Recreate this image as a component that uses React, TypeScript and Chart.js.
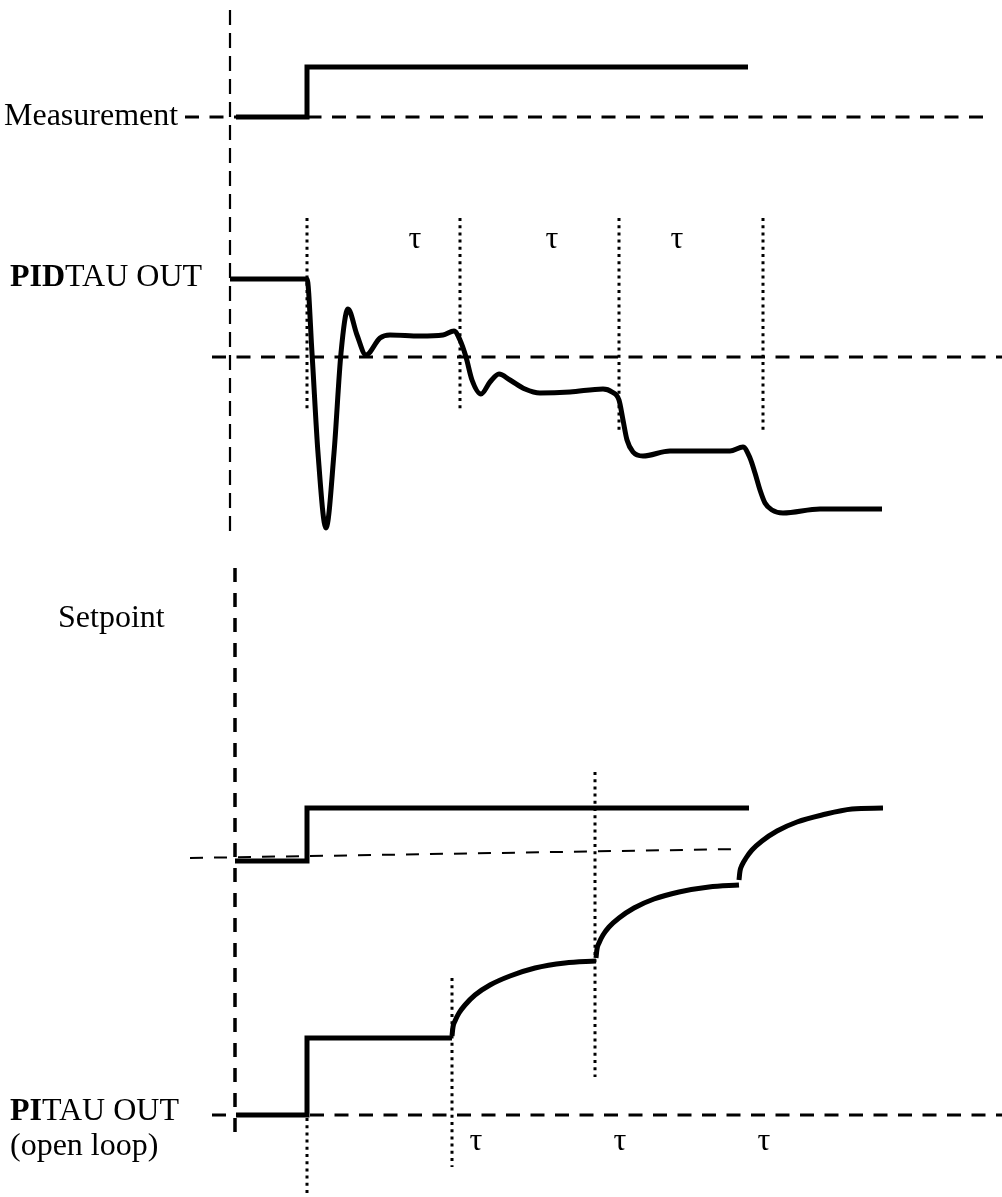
import React, { useEffect, useRef } from "react";
import { Chart, registerables } from "chart.js";

Chart.register(...registerables);

// ---- axis ranges (time in units, signal in diagram units) ----
const T_MIN = -30.7;
const T_MAX = 69.5;
const V_MIN = 0;
const V_MAX = 119.7;

// ---- Measurement step ----
const measT = [-7.1, 0, 0, 44.1];
const measV = [108.0, 108.0, 113.0, 113.0];

// ---- PID TAU output ----
const pidT = [-7.7, 0, 0.5, 1.1, 1.9, 2.7, 3.4, 4.1, 5.0, 5.9, 7.3, 8.3, 11.3, 13.6, 14.7, 15.3, 15.9, 16.5, 17.4, 18.3, 19.2, 20.3, 21.8, 23.3, 26.3, 29.6, 30.5, 31.2, 31.6, 32.0, 32.6, 33.6, 36.3, 42.3, 43.6, 44.3, 44.8, 45.3, 45.8, 46.5, 47.6, 51.3, 57.5];
const pidV = [91.8, 91.8, 84.4, 74.4, 66.9, 74.4, 84.4, 88.8, 86.2, 84.2, 85.9, 86.2, 86.1, 86.2, 86.6, 85.7, 84.0, 81.7, 80.3, 81.5, 82.3, 81.7, 80.8, 80.4, 80.5, 80.8, 80.5, 79.7, 77.7, 75.7, 74.5, 74.1, 74.6, 74.6, 75.0, 73.9, 72.4, 70.7, 69.4, 68.7, 68.4, 68.8, 68.8];

// ---- Setpoint step ----
const spT = [-7.2, 0, 0, 44.2];
const spV = [33.6, 33.6, 38.9, 38.9];

// ---- PI TAU output (open loop) ----
const piStepT = [-7.1, 0, 0, 14.5];
const piStepV = [8.2, 8.2, 15.9, 15.9];
const piRamp1T = [14.5, 14.6, 14.8, 15.2, 15.8, 16.8, 18.3, 20.3, 22.8, 25.8, 28.9];
const piRamp1V = [16.1, 17.0, 17.6, 18.4, 19.2, 20.2, 21.2, 22.1, 22.9, 23.4, 23.6];
const piRamp2T = [28.9, 29.0, 29.2, 29.6, 30.2, 31.2, 32.7, 34.7, 37.2, 40.2, 43.2];
const piRamp2V = [23.9, 24.8, 25.4, 26.2, 27.0, 27.9, 28.9, 29.8, 30.5, 31.0, 31.2];
const piRamp3T = [43.2, 43.3, 43.5, 43.9, 44.5, 45.5, 47.0, 49.0, 51.5, 54.5, 57.6];
const piRamp3V = [31.7, 32.6, 33.2, 33.9, 34.7, 35.6, 36.6, 37.5, 38.2, 38.8, 38.9];

// ---- reference (dashed) levels ----
const baseLevels = [108.0, 84.0, 8.2];
const baseStart = [-12.2, -9.5, -9.5];
const baseEnd = [68.0, 69.5, 69.5];
const spRefT = [-11.7, 43.3];
const spRefV = [33.9, 34.8];
const axisT = [-7.7, -7.2];
const axisFrom = [66.2, 5.4];
const axisTo = [118.7, 62.9];

// ---- tau marker lines (dotted) ----
const tauTopT = [0, 15.3, 31.2, 45.6];
const tauTopFrom = [78.7, 78.5, 76.5, 76.5];
const tauTopTo = [97.9, 97.9, 97.9, 97.9];
const tauBotT = [0, 14.5, 28.8];
const tauBotFrom = [0, 3.0, 12.0];
const tauBotTo = [7.9, 21.9, 42.5];

// ---- tau labels ----
const tauLabelTopT = [10.8, 24.5, 37.0];
const tauLabelTopV = 95.7;
const tauLabelBotT = [16.9, 31.3, 45.7];
const tauLabelBotV = 5.5;

// ---- side labels: [bold part, normal part, t, v] ----
const sideLabels: [string, string, number, number][] = [
  ["", "Measurement", -30.3, 107.2],
  ["PID", "TAU OUT", -29.7, 91.1],
  ["", "Setpoint", -24.9, 57.0],
  ["PI", "TAU OUT", -29.7, 7.7],
  ["", "(open loop)", -29.7, 4.2],
];

const FONT = '"Liberation Serif", "Times New Roman", serif';
const FONT_SIZE = 32;

function pts(ts: number[], vs: number[]) {
  return ts.map((t, i) => ({ x: t, y: vs[i] }));
}

export default function App() {
  const ref = useRef<HTMLCanvasElement>(null);

  useEffect(() => {
    const thick = (data: any, smooth: boolean) => ({
      data,
      borderColor: "#000",
      borderWidth: 5,
      pointRadius: 0,
      tension: 0,
      cubicInterpolationMode: smooth ? "monotone" : "default",
      borderJoinStyle: "miter",
      order: 0,
    });
    const dashed = (data: any, width: number, dash: number[]) => ({
      data,
      borderColor: "#000",
      borderWidth: width,
      borderDash: dash,
      pointRadius: 0,
      tension: 0,
      order: 5,
    });

    const datasets: any[] = [
      thick(pts(measT, measV), false),
      thick(pts(pidT, pidV), true),
      thick(pts(spT, spV), false),
      thick(pts(piStepT, piStepV), false),
      thick(pts(piRamp1T, piRamp1V), true),
      thick(pts(piRamp2T, piRamp2V), true),
      thick(pts(piRamp3T, piRamp3V), true),
    ];
    baseLevels.forEach((lv, i) => {
      datasets.push(dashed([{ x: baseStart[i], y: lv }, { x: baseEnd[i], y: lv }], 3, [14, 10.5]));
    });
    datasets.push(dashed(pts(spRefT, spRefV), 2, [13, 11]));
    datasets.push(dashed([{ x: axisT[0], y: axisTo[0] }, { x: axisT[0], y: axisFrom[0] }], 2.2, [15, 8]));
    datasets.push(dashed([{ x: axisT[1], y: axisTo[1] }, { x: axisT[1], y: axisFrom[1] }], 3.5, [14, 11]));
    tauTopT.forEach((t, i) => {
      datasets.push(dashed([{ x: t, y: tauTopTo[i] }, { x: t, y: tauTopFrom[i] }], 3, [3, 4.2]));
    });
    tauBotT.forEach((t, i) => {
      datasets.push(dashed([{ x: t, y: tauBotTo[i] }, { x: t, y: tauBotFrom[i] }], 3, [3, 4.2]));
    });

    const textPlugin = {
      id: "diagramText",
      afterDatasetsDraw(chart: any) {
        const { ctx, scales } = chart;
        const xs = scales.x;
        const ys = scales.y;
        ctx.save();
        ctx.fillStyle = "#000";
        ctx.textBaseline = "alphabetic";
        ctx.textAlign = "left";
        sideLabels.forEach(([b, n, t, v]) => {
          let px = xs.getPixelForValue(t);
          const py = ys.getPixelForValue(v);
          if (b) {
            ctx.font = `bold ${FONT_SIZE}px ${FONT}`;
            ctx.fillText(b, px, py);
            px += ctx.measureText(b).width;
          }
          ctx.font = `${FONT_SIZE}px ${FONT}`;
          ctx.fillText(n, px, py);
        });
        ctx.font = `${FONT_SIZE}px ${FONT}`;
        ctx.textAlign = "center";
        ctx.textBaseline = "middle";
        tauLabelTopT.forEach((t) => {
          ctx.fillText("τ", xs.getPixelForValue(t), ys.getPixelForValue(tauLabelTopV));
        });
        tauLabelBotT.forEach((t) => {
          ctx.fillText("τ", xs.getPixelForValue(t), ys.getPixelForValue(tauLabelBotV));
        });
        ctx.restore();
      },
    };

    const chart = new Chart(ref.current as HTMLCanvasElement, {
      type: "line",
      data: { datasets },
      options: {
        animation: false,
        responsive: false,
        maintainAspectRatio: false,
        devicePixelRatio: 1,
        layout: { padding: 0 },
        plugins: { legend: { display: false }, tooltip: { enabled: false } },
        events: [],
        scales: {
          x: { type: "linear", min: T_MIN, max: T_MAX, display: false },
          y: { type: "linear", min: V_MIN, max: V_MAX, display: false },
        },
      } as any,
      plugins: [textPlugin],
    });
    return () => chart.destroy();
  }, []);

  return (
    <div style={{ position: "absolute", left: 0, top: 0, width: 1002, height: 1197, background: "#fff" }}>
      <canvas ref={ref} width={1002} height={1197} style={{ display: "block" }} />
    </div>
  );
}
